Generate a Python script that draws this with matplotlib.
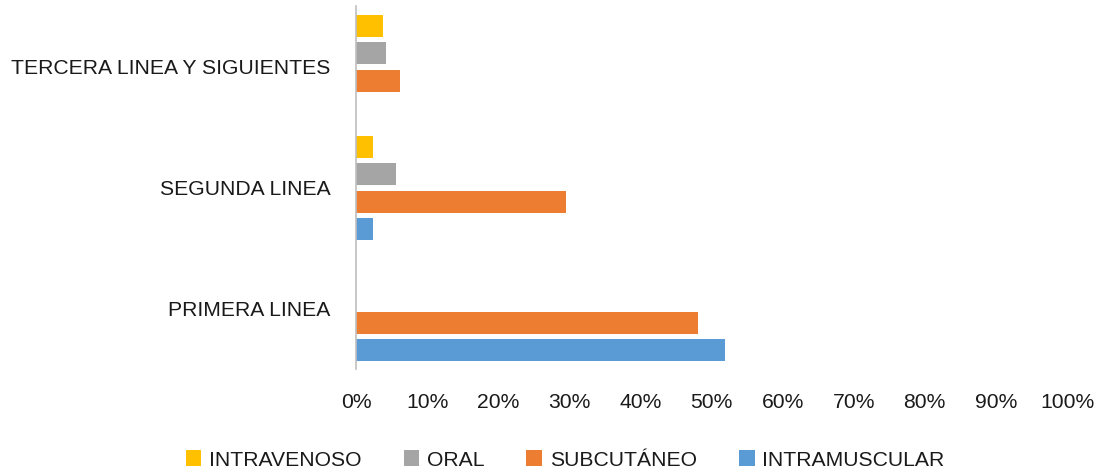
import matplotlib
matplotlib.use("Agg")
import matplotlib.pyplot as plt
import numpy as np

categories = ["PRIMERA LINEA", "SEGUNDA LINEA", "TERCERA LINEA Y SIGUIENTES"]
series_names = ["INTRAMUSCULAR", "SUBCUTÁNEO", "ORAL", "INTRAVENOSO"]
intramuscular = [51.9, 2.4, None]
subcutaneo = [48.1, 29.5, 6.2]
oral = [None, 5.6, 4.2]
intravenoso = [None, 2.4, 3.8]
colors = ["#5B9BD5", "#ED7D31", "#A5A5A5", "#FFC000"]
xticks = [0, 10, 20, 30, 40, 50, 60, 70, 80, 90, 100]

plt.rcParams["font.family"] = ["Liberation Sans", "DejaVu Sans"]
FS = 15.2

fig = plt.figure(figsize=(11.04, 4.73), dpi=100)
ax = fig.add_axes([356/1104, 1-369.5/473, (1067-356)/1104, (369.5-6.5)/473])

series = [intramuscular, subcutaneo, oral, intravenoso]
y = np.arange(len(categories))
pitch = 0.2256
h = 0.18
for i, (s, c, n) in enumerate(zip(series, colors, series_names)):
    vals = [v if v is not None else 0 for v in s]
    ax.barh(y + (i - 1.5) * pitch, vals, height=h, color=c, label=n)

ax.set_xlim(0, 100)
ax.set_ylim(-0.5, len(categories) - 0.5)
ax.set_xticks(xticks)
ax.set_xticklabels([f"{t}%" for t in xticks], fontsize=FS, color="#1a1a1a")
ax.set_yticks(y)
ax.set_yticklabels(categories, fontsize=FS, color="#1a1a1a")
ax.tick_params(axis="x", length=0, pad=17)
ax.tick_params(axis="y", length=0, pad=18.5)
for sp in ["top", "right", "bottom"]:
    ax.spines[sp].set_visible(False)
ax.spines["left"].set_color("#BFBFBF")
ax.spines["left"].set_linewidth(1.2)

handles, labels = ax.get_legend_handles_labels()
leg = fig.legend(handles[::-1], labels[::-1], loc="center", bbox_to_anchor=(565/1104, 1-460/473),
           ncol=4, frameon=False, fontsize=FS, handlelength=0.75, handleheight=0.75,
           columnspacing=2.0, handletextpad=0.35)
for t in leg.get_texts():
    t.set_color("#1a1a1a")

fig.savefig("out.png", dpi=100)
